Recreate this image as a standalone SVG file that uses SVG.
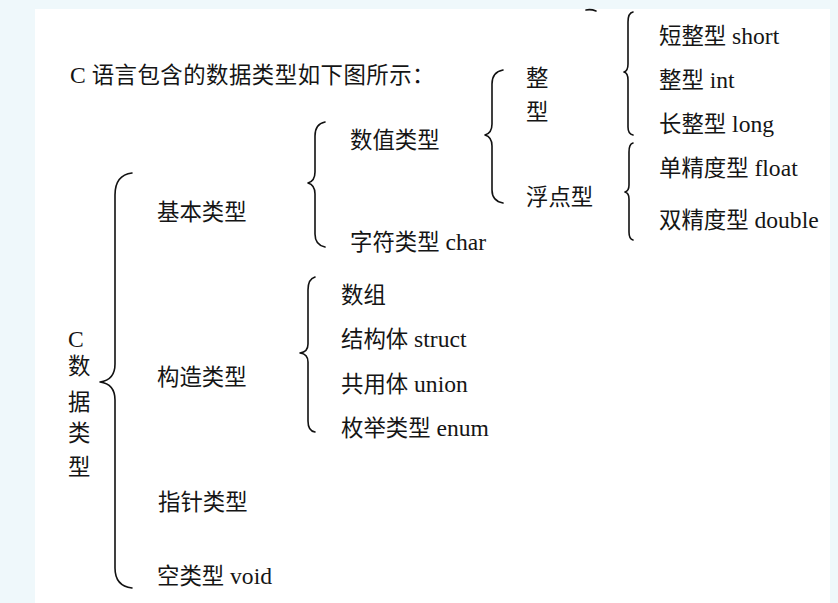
<svg xmlns="http://www.w3.org/2000/svg" width="838" height="603" viewBox="0 0 838 603">
<style>
text{font-family:"Liberation Serif","Noto Sans CJK SC",serif;font-size:22.4px;fill:#151515}
.l{font-size:23.6px}
.br{fill:none;stroke:#111;stroke-width:1.6;stroke-linecap:round;stroke-linejoin:round}
</style>
<rect x="0" y="0" width="838" height="603" fill="#eff8fb"/>
<rect x="35" y="9" width="795" height="594" fill="#ffffff"/>
<g id="connectors">
<path class="br" d="M586,10 Q591,9 596,11"/>
<path class="br" d="M132,173 Q115,175 115,195 L115,364 Q115,380 100,382 Q115,384 115,400 L115,568 Q115,586 132,588"/>
<path class="br" d="M325,122 Q315,124 315,136 L315,172 Q315,181 308,183 Q315,185 315,194 L315,234 Q315,245 325,247"/>
<path class="br" d="M503,70 Q492,72 492,84 L492,124 Q492,133 485,135 Q492,137 492,146 L492,190 Q492,201 503,203"/>
<path class="br" d="M633,12 Q628,13 628,22 L628,64 Q628,71 624,72 Q628,73 628,80 L628,127 Q628,134 633,135"/>
<path class="br" d="M633,143 Q629,144 629,152 L629,185 Q629,191 625,192 Q629,193 629,199 L629,232 Q629,239 633,240"/>
<path class="br" d="M315,277 Q308,279 308,290 L308,344 Q308,352 300,353 Q308,354 308,362 L308,421 Q308,431 315,432"/>
</g>
<g id="title"><text x="70" y="83"><tspan class="l">C </tspan><tspan letter-spacing="0.5">语言包含的数据类型如下图所示：</tspan></text></g>
<g id="root">
<text x="68" y="347" class="l">C</text>
<text x="68" y="374">数</text>
<text x="68" y="410">据</text>
<text x="68" y="441">类</text>
<text x="68" y="475">型</text>
</g>
<g id="basic"><text x="157" y="220">基本类型</text></g>
<g id="construct"><text x="157" y="385">构造类型</text></g>
<g id="pointer"><text x="158" y="510">指针类型</text></g>
<g id="void"><text x="157" y="584">空类型<tspan class="l"> void</tspan></text></g>
<g id="numeric"><text x="350" y="148">数值类型</text></g>
<g id="char"><text x="350" y="250">字符类型<tspan class="l"> char</tspan></text></g>
<g id="integer"><text x="526" y="86">整</text><text x="526" y="120">型</text></g>
<g id="floating"><text x="526" y="205">浮点型</text></g>
<g id="short"><text x="659" y="44">短整型<tspan class="l"> short</tspan></text></g>
<g id="int"><text x="659" y="88">整型<tspan class="l"> int</tspan></text></g>
<g id="long"><text x="659" y="132">长整型<tspan class="l"> long</tspan></text></g>
<g id="float"><text x="659" y="176">单精度型<tspan class="l"> float</tspan></text></g>
<g id="double"><text x="659" y="228">双精度型<tspan class="l"> double</tspan></text></g>
<g id="array"><text x="341" y="303">数组</text></g>
<g id="struct"><text x="341" y="347">结构体<tspan class="l"> struct</tspan></text></g>
<g id="union"><text x="341" y="392">共用体<tspan class="l"> union</tspan></text></g>
<g id="enum"><text x="341" y="436">枚举类型<tspan class="l"> enum</tspan></text></g>
</svg>
